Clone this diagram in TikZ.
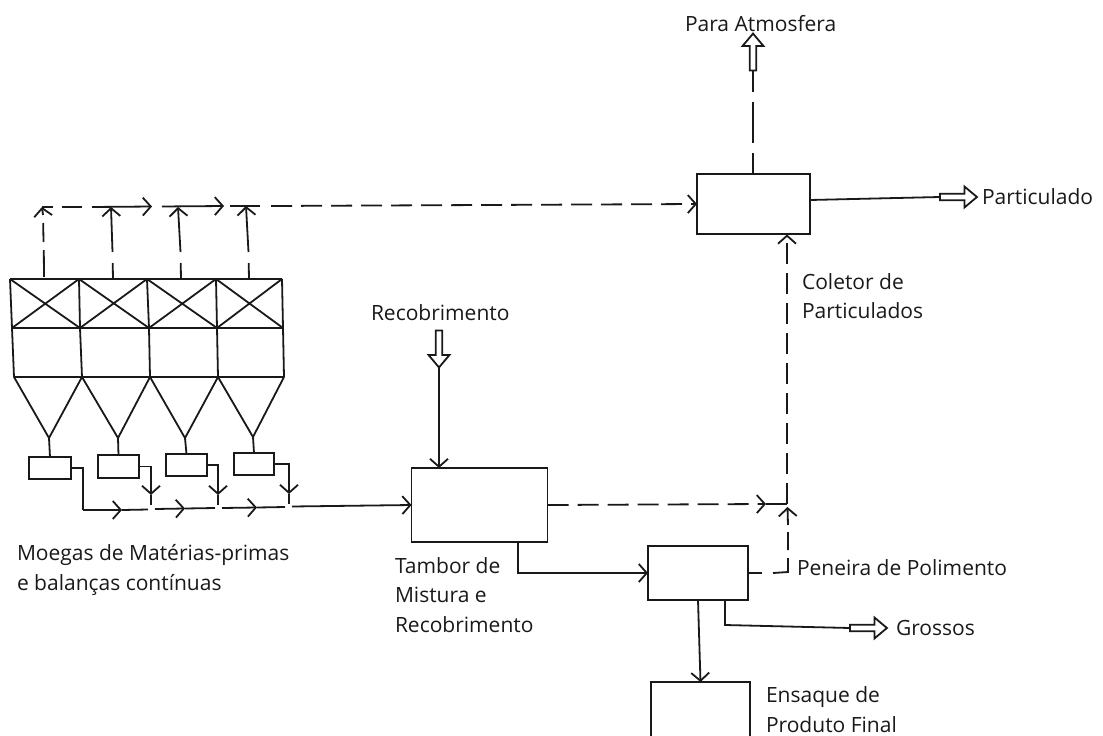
\documentclass[tikz,border=0pt]{standalone}
\usepackage{fontspec}
\setmainfont{Open Sans}
\usetikzlibrary{arrows.meta,shapes.arrows,calc}
\tikzset{
  ln/.style={line width=1.8pt,black!90},
  arr/.style={ln,-{Straight Barb[length=8pt,width=18pt,line width=1.8pt]}},
  darr/.style={arr,dash pattern=on 21pt off 9pt},
  box/.style={draw,ln,inner sep=0pt,outer sep=0pt},
  hollow/.style={draw,ln,fill=white,single arrow,inner sep=0pt,outer sep=0pt,minimum height=37pt,minimum width=21pt,
     single arrow head extend=2pt,single arrow tip angle=80,single arrow head indent=0pt},
  lbl/.style={inner sep=0pt,outer sep=0pt,anchor=west,align=left,text=black!90,
     font=\fontsize{21pt}{29.6pt}\selectfont}
}
\begin{document}
\begin{tikzpicture}[x=1pt,y=-1pt]
\useasboundingbox (0,0) rectangle (1103,736);
% hopper frame coordinates
\foreach \n/\a/\b/\c in {0/10/12/14,1/79/80/82,2/147/149/150,3/216/217/218,4/282/283/284}{
  \coordinate (t\n) at (\a,279);
  \coordinate (m\n) at (\b,328);
  \coordinate (l\n) at (\c,377);
}
\coordinate (h1) at (49,438);
\coordinate (h2) at (118,438);
\coordinate (h3) at (185,438);
\coordinate (h4) at (253,437);
\draw[ln] (t0)--(t4) (m0)--(m4) (l0)--(l4);
\foreach \n in {0,...,4}{\draw[ln] (t\n)--(m\n)--(l\n);}
\foreach \p/\q in {0/1,1/2,2/3,3/4}{
  \draw[ln] (t\p)--(m\q) (t\q)--(m\p);
}
\draw[ln] (l0)--(h1)--(l1)--(h2)--(l2)--(h3)--(l3)--(h4)--(l4);
% scales
\node[box,minimum width=42pt,minimum height=22pt] (b1) at (50,468) {};
\node[box,minimum width=41pt,minimum height=23pt] (b2) at (118.5,466.5) {};
\node[box,minimum width=41pt,minimum height=22pt] (b3) at (186.5,465) {};
\node[box,minimum width=40pt,minimum height=22pt] (b4) at (254,464) {};
\foreach \i in {1,...,4}{\draw[ln] (h\i)--(b\i.north);}
% process boxes
\node[box,minimum width=113pt,minimum height=60pt] (col) at (753.5,204) {};
\node[box,minimum width=136pt,minimum height=74pt] (tam) at (479.5,505) {};
\node[box,minimum width=100pt,minimum height=54pt] (pen) at (698,573) {};
\node[box,minimum width=99pt,minimum height=60pt] (ens) at (700.5,712) {};
% hollow arrows
\node[hollow,shape border rotate=90] (atm) at (753,54) {};
\node[hollow,shape border rotate=0] (par) at (956.5,197) {};
\node[hollow,shape border rotate=270] (rec) at (439,347) {};
\node[hollow,shape border rotate=0] (gro) at (866.5,628) {};
% dust line junctions
\coordinate (j1) at (42,207); \coordinate (j2) at (111,207);
\coordinate (j3) at (178,207); \coordinate (j4) at (246,206);
\coordinate (s1) at (44,277); \coordinate (s2) at (113,279);
\coordinate (s3) at (181,279); \coordinate (s4) at (249,279);
\coordinate (c1) at (152,206.5); \coordinate (c2) at (224,206);
\draw[ln] (s1)--(43.8,250) (43.5,242)--(43.2,223);
\draw[arr] (43,215)--(j1);
\foreach \i in {2,3,4}{
  \draw[ln] (s\i)--++(-0.3,-16);
  \draw[arr] ($(s\i)+(-0.5,-27)$)--(j\i);
}
\draw[ln] (j1)--++(11,0);
\draw[ln] (62,207)--(82,207);
\draw[arr] (92,207)--(c1);
\draw[arr] (162,206.5)--(c2);
\draw[ln] (230,206)--(260,206);
\draw[darr] (271,206)--(col.west);
% collector outlets
\draw[ln] ($(col.north)+(-0.5,0)$)--++(0,-21) (753,143)--(753,102) (753,92)--(atm.tail);
\draw[ln] ($(col.east)+(0,-4)$)--(par.tail);
% mixing feed
\draw[arr] (rec.tip)--(rec.tip|-tam.north);
% scales to main belt
\coordinate (f1) at (83,510);
\coordinate (c3) at (122,510); \coordinate (c4) at (185,508.5); \coordinate (c5) at (257,507.5);
\coordinate (d2) at (151,495); \coordinate (d3) at (218,495); \coordinate (d4) at (289,494);
\draw[ln] (b1.east)-|(f1);
\draw[arr] (f1)--(c3);
\draw[ln] (c3)--(148,509.5);
\draw[arr] (155,509)--(c4);
\draw[ln] (c4)--(215,508);
\draw[arr] (222,508)--(c5);
\draw[ln] (c5)--(285,507);
\draw[arr] (292,506.5)--(tam.west);
\draw[arr] (b2.east)-|(d2);
\draw[arr] (b3.east)-|(d3);
\draw[arr] (b4.east)-|(d4);
\draw[ln] (d2)--(151,505) (d3)--(218,505) (d4)--(289,504);
% dust lines right
\coordinate (k) at (787,504);
\coordinate (c6) at (766,504);
\draw[darr] (tam.east)--(c6);
\draw[ln] (c6)--(k);
\draw[darr] (k)--(787,234.5);
\coordinate (pk) at (788,572);
\draw[ln] (pen.east)--++(14,0);
\draw[ln] (773,573)--(pk)--(788,558) (788,550)--(788,532);
\draw[arr] (788,525)--(787.5,507);
% product lines
\coordinate (m1t) at (518,542);
\draw[arr] (m1t)|-(pen.west);
\draw[arr] (pen.south)--(ens.north);
\coordinate (gs) at (725,600);
\draw[ln] (gs)--(725,625)--(gro.tail);
% labels
\node[lbl] (l1) at (685,24) {Para Atmosfera};
\node[lbl] (l2) at (982,197) {Particulado};
\node[lbl] (l3) at (802,296) {Coletor de\\Particulados};
\node[lbl] (l4) at (371,313) {Recobrimento};
\node[lbl] (l5) at (17,570) {Moegas de Matérias-primas\\e balanças contínuas};
\node[lbl] (l6) at (395,595) {Tambor de\\Mistura e\\Recobrimento};
\node[lbl] (l7) at (797,568) {Peneira de Polimento};
\node[lbl] (l8) at (896,628) {Grossos};
\node[lbl] (l9) at (766,709.5) {Ensaque de\\Produto Final};
\end{tikzpicture}
\end{document}
